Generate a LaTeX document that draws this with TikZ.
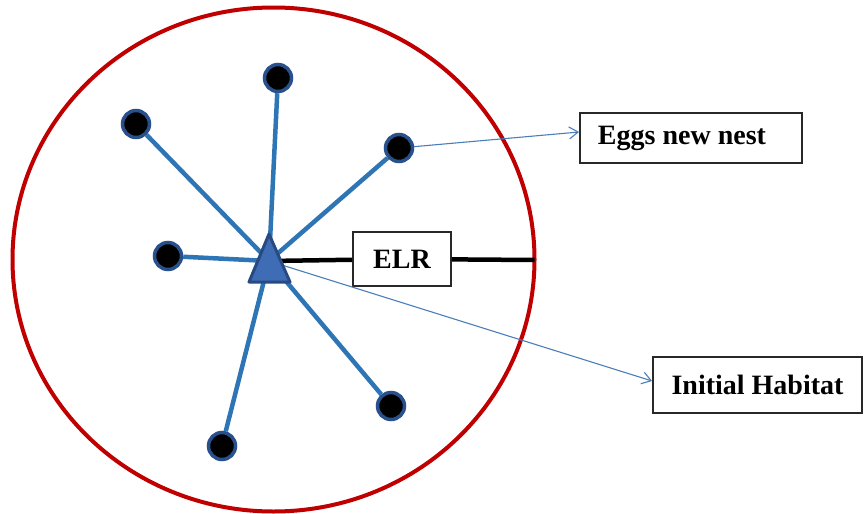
\documentclass[tikz,border=0pt]{standalone}
\usepackage{fontspec}
\setmainfont{Liberation Serif}
\usetikzlibrary{arrows.meta}
\definecolor{rimred}{RGB}{192,0,0}
\definecolor{spokeblue}{RGB}{46,117,182}
\definecolor{ringblue}{RGB}{40,80,140}
\definecolor{hubfill}{RGB}{62,109,181}
\definecolor{hubline}{RGB}{40,74,130}
\definecolor{arrowblue}{RGB}{74,126,187}
\definecolor{boxgray}{RGB}{40,40,40}
\tikzset{
	rim/.style = {draw=rimred, line width=4pt},
	spoke/.style = {draw=spokeblue, line width=4.5pt},
	nest/.style = {circle, fill=black, draw=ringblue, line width=3.5pt, minimum size=27pt, inner sep=0pt},
	labelbox/.style = {draw=boxgray, line width=1.8pt, fill=white, inner sep=0pt, font=\fontsize{28}{30}\selectfont\bfseries},
	radius line/.style = {draw=black, line width=4.5pt},
	pointer/.style = {draw=arrowblue, line width=1.1pt, -{Straight Barb[length=9pt, width=12pt]}}
}

\begin{document}
\begin{tikzpicture}[x=1pt, y=-1pt]
	\useasboundingbox (0,0) rectangle (865,514);
	% search area
	\draw [rim] (273.5,259.5) ellipse [x radius=261, y radius=252];
	% current habitat and new nests
	\coordinate (hub) at (269,261);
	\node [nest] (top) at (278,78) {};
	\node [nest] (upleft) at (136,124) {};
	\node [nest] (upright) at (399,148) {};
	\node [nest] (left) at (168,256) {};
	\node [nest] (lowright) at (391,406) {};
	\node [nest] (bottom) at (222,446) {};
	\foreach \n in {top, upleft, upright, left, lowright, bottom}
		\draw [spoke] (hub) -- (\n);
	% labels
	\node [labelbox, minimum width=98pt, minimum height=54pt] (elr) at (402,259) {ELR};
	\node [labelbox, minimum width=222pt, minimum height=50pt] (eggs) at (691,138) {Eggs new nest\kern18pt};
	\node [labelbox, minimum width=209pt, minimum height=56pt] (init) at (757.5,385) {Initial Habitat};
	\coordinate (edge) at (534.5,260);
	\draw [radius line] (hub) -- (elr) -- (edge);
	\draw [pointer] (hub) -- ([yshift=4pt]init.west);
	\draw [pointer] (upright) -- ([yshift=6pt]eggs.west);
	% initial habitat marker
	\coordinate (apex) at (269,234);
	\coordinate (baseL) at (249,282);
	\coordinate (baseR) at (290,282);
	\filldraw [fill=hubfill, draw=hubline, line width=3pt, line join=round] (apex) -- (baseR) -- (baseL) -- cycle;
\end{tikzpicture}
\end{document}
